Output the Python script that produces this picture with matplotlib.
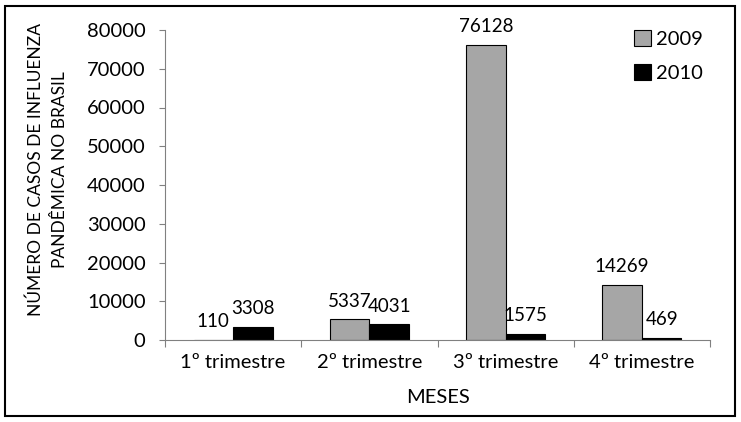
import matplotlib.pyplot as plt
import numpy as np
from matplotlib.patches import Rectangle

# dados
trimestres = ['1º trimestre', '2º trimestre', '3º trimestre', '4º trimestre']
casos_2009 = [110, 5337, 76128, 14269]
casos_2010 = [3308, 4031, 1575, 469]

plt.rcParams['font.family'] = ['Lato', 'DejaVu Sans']
fs = 14.5

fig = plt.figure(figsize=(7.41, 4.22), dpi=100)
ax = fig.add_axes([165/741, 1-340/422, (710-165)/741, (340-30)/422])

x = np.arange(len(trimestres))
w = 0.29
b1 = ax.bar(x - w/2, casos_2009, w, color='#a6a6a6', edgecolor='black', linewidth=0.8, label='2009')
b2 = ax.bar(x + w/2, casos_2010, w, color='black', edgecolor='black', linewidth=0.8, label='2010')
ax.bar_label(b1, padding=7, fontsize=13.5)
ax.bar_label(b2, padding=7, fontsize=13.5)

ax.set_xlim(-0.5, 3.5)
ax.set_ylim(0, 80000)
ax.set_yticks(range(0, 80001, 10000))
ax.set_xticks(np.arange(-0.5, 4, 1))
ax.set_xticklabels([])
ax.set_xticks(x, minor=True)
ax.set_xticklabels(trimestres, minor=True)
ax.tick_params(axis='x', which='minor', length=0, pad=10, labelsize=fs)
ax.tick_params(axis='x', which='major', length=5, color='#808080')
ax.tick_params(axis='y', length=4, color='#808080', labelsize=fs, pad=10)
for s in ['top', 'right']:
    ax.spines[s].set_visible(False)
for s in ['left', 'bottom']:
    ax.spines[s].set_color('#808080')

ax.set_xlabel('MESES', fontsize=fs, labelpad=13)
ax.set_ylabel('NÚMERO DE CASOS DE INFLUENZA\nPANDÊMICA NO BRASIL', fontsize=12.5, linespacing=1.6)
ax.yaxis.set_label_coords(-0.178, 0.55)

ax.legend(loc='upper right', bbox_to_anchor=(1.02, 1.06), frameon=False, fontsize=fs,
          handlelength=0.85, handleheight=0.85, handletextpad=0.25, labelspacing=0.8)

fig.patches.append(Rectangle((5/741, 6/422), 730/741, 410/422, transform=fig.transFigure,
                             fill=False, edgecolor='black', linewidth=1.5))

fig.savefig('out.png', dpi=100)
